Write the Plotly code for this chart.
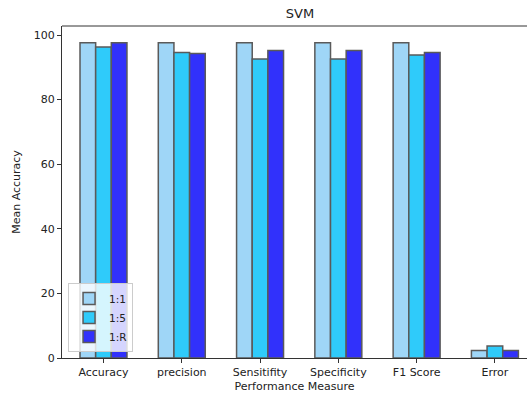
import plotly.graph_objects as go

categories = ["Accuracy", "precision", "Sensitifity", "Specificity", "F1 Score", "Error"]
series_names = ["1:1", "1:5", "1:R"]
vals_1_1 = [97.6, 97.6, 97.6, 97.6, 97.6, 2.3]
vals_1_5 = [96.3, 94.6, 92.6, 92.6, 93.8, 3.7]
vals_1_R = [97.6, 94.3, 95.2, 95.2, 94.6, 2.3]
colors = ["#9fd6f7", "#2fcbfa", "#3131fb"]
y_ticks = [0, 20, 40, 60, 80, 100]

font_family = "DejaVu Sans"

W, H = 527, 396

fig = go.Figure()
for name, vals, col in zip(series_names, [vals_1_1, vals_1_5, vals_1_R], colors):
    fig.add_trace(go.Bar(
        x=categories, y=vals, name=name,
        marker=dict(color=col, line=dict(color="#5a5a5a", width=1.5)),
    ))

fig.update_layout(
    width=W, height=H,
    margin=dict(l=62, r=0, t=26, b=38, autoexpand=False),
    paper_bgcolor="white", plot_bgcolor="white",
    barmode="group", bargap=0.4, bargroupgap=0,
    font=dict(family=font_family, size=11, color="#222"),
    title=dict(text="SVM", x=300 / W, xanchor="center", y=1 - 13 / H, yanchor="middle",
               font=dict(family=font_family, size=13, color="#222")),
    showlegend=True,
    legend=dict(x=0.013, y=0.018, xanchor="left", yanchor="bottom",
                bgcolor="rgba(255,255,255,0.8)", bordercolor="#cccccc", borderwidth=1,
                font=dict(size=10.5, color="#222"), tracegroupgap=0, itemwidth=30),
    xaxis=dict(range=[-0.53, 5.41], showline=True, linecolor="#333", linewidth=1,
               ticks="outside", ticklen=4, tickcolor="#333", showgrid=False, automargin=False,
               title=dict(text="Performance Measure", standoff=4, font=dict(size=11))),
    yaxis=dict(range=[0, 102.8], tickvals=y_ticks, showline=True, linecolor="#333", linewidth=1,
               ticks="outside", ticklen=4, tickcolor="#333", showgrid=False, zeroline=False,
               automargin=False,
               title=dict(text="Mean Accuracy", standoff=10, font=dict(size=11))),
    shapes=[dict(type="line", xref="paper", yref="paper", x0=0, x1=1, y0=1, y1=1,
                 line=dict(color="#333", width=1))],
)

fig.write_html("out.html", config={"displayModeBar": False},
               post_script="document.body.style.margin='0';")
